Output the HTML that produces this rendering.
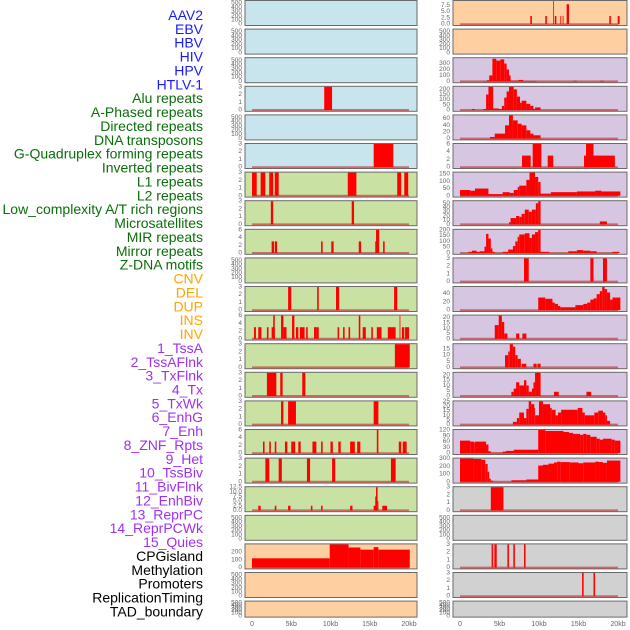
<!DOCTYPE html>
<html><head><meta charset="utf-8"><style>
html,body{margin:0;padding:0;background:#fff;}
svg{display:block;font-family:"Liberation Sans",sans-serif;}
</style></head><body>
<svg id="chart" width="630" height="630" viewBox="0 0 630 630" xmlns="http://www.w3.org/2000/svg"></svg>
<script>
const labels = ["AAV2","EBV","HBV","HIV","HPV","HTLV-1","Alu repeats","A-Phased repeats","Directed repeats","DNA transposons","G-Quadruplex forming repeats","Inverted repeats","L1 repeats","L2 repeats","Low_complexity A/T rich regions","Microsatellites","MIR repeats","Mirror repeats","Z-DNA motifs","CNV","DEL","DUP","INS","INV","1_TssA","2_TssAFlnk","3_TxFlnk","4_Tx","5_TxWk","6_EnhG","7_Enh","8_ZNF_Rpts","9_Het","10_TssBiv","11_BivFlnk","12_EnhBiv","13_ReprPC","14_ReprPCWk","15_Quies","CPGisland","Methylation","Promoters","ReplicationTiming","TAD_boundary"];
const groups = [0,0,0,0,0,0,1,1,1,1,1,1,1,1,1,1,1,1,1,2,2,2,2,2,3,3,3,3,3,3,3,3,3,3,3,3,3,3,3,4,4,4,4,4];
const xTicks = [0,5,10,15,20];
const xTickLabels = ["0","5kb","10kb","15kb","20kb"];

const segAAV2=[],segEBV=[],segHBV=[],segHPV=[],segDNA=[],segZDNA=[],segDEL=[],segDUP=[],segINV=[],segMeth=[],segTAD=[];
const segHIV=[[9.2,10.2,3]];
const segHTLV=[[15.5,18.0,3]];
const segAlu=[[0,0.6,3],[1.1,1.7,3],[2.2,2.7,3],[2.9,3.4,3],[12.2,13.3,3],[18.5,19.0,3],[19.4,19.9,3]];
const segAPh=[[2.4,2.7,3],[12.7,13.0,3]];
const segDir=[[2.5,2.8,3],[2.9,3.2,3],[8.8,9.0,3],[10.1,10.4,3],[13.6,13.9,3],[15.7,15.9,3],[15.8,16.2,6],[16.7,16.9,3]];
const segGQ=[[4.6,5.0,3],[8.3,8.5,3],[10.7,11.1,3],[18.1,18.5,3]];
const segInv=[[0.25,0.5,3],[0.8,1.2,3],[1.9,2.1,3],[2.5,2.9,3],[2.7,2.9,6],[3.7,4.0,6],[4.0,4.4,3],[5.1,5.4,6],[5.6,5.9,3],[6.1,6.7,3],[6.9,7.1,3],[7.9,8.2,3],[8.2,8.5,3],[10.9,11.1,3],[11.6,11.8,3],[12.3,12.5,3],[13.6,13.8,6],[14.1,14.5,3],[15.2,15.4,3],[15.9,16.5,3],[17.3,18.3,3],[18.8,18.9,6],[19.1,19.4,3],[19.5,20.0,3]];
const segL1=[[18.2,20.1,3]];
const segL2=[[1.9,3.1,3],[3.6,3.9,3],[6.4,6.8,3]];
const segLow=[[3.7,4.0,3],[4.6,5.6,3],[15.5,16.1,3]];
const segMic=[[1.4,1.6,3],[2.2,2.4,3],[2.9,3.1,3],[4.2,4.5,3],[5.0,5.5,3],[5.9,6.2,3],[7.7,8.2,3],[8.8,9.0,3],[10.0,10.3,3],[11.0,11.3,3],[12.5,13.1,3],[13.4,13.8,3],[15.9,16.1,6],[18.7,19.0,3],[19.2,19.7,3]];
const segMIR=[[1.7,2.2,3],[3.4,3.8,3],[7.0,7.4,3],[10.2,10.6,3],[17.7,18.3,3]];
const segMirror=[[0.8,1.1,2.5],[2.9,3.1,2.5],[4.6,4.9,2.5],[7.5,7.7,2.5],[8.8,9.0,2.5],[12.5,12.8,2.5],[15.5,15.8,2.5],[15.7,15.9,7.5],[15.8,16.0,12.5],[16.0,16.1,5],[16.6,17.2,2.5]];
const segCNV=[[0,9.9,120],[9.9,12.3,300],[12.3,13.8,260],[13.8,15.5,232],[15.5,16.1,265],[16.1,20.1,232]];
const segINS=[[8.9,9.1,3.3],[10.8,11.0,3.3],[11.8,11.9,9.3],[12.0,12.2,3.3],[12.7,12.8,3.3],[13.0,13.1,3.3],[13.5,13.8,8],[18.9,19.1,3.3],[19.96,20.2,3.3]];
const segTssA=[[2.95,3.4,5],[3.4,3.7,20],[3.7,4.1,100],[4.1,4.6,380],[4.6,5.1,350],[5.1,5.6,370],[5.6,5.9,300],[5.9,6.2,200],[6.2,6.4,100],[6.4,7.4,15],[7.4,8.0,25],[8.0,9.7,8],[14.3,14.8,10],[17.7,18.2,10]];
const segTssAF=[[1.5,1.9,10],[2.95,3.3,10],[3.3,3.6,150],[3.6,4.2,225],[4.2,4.9,15],[4.9,5.3,10],[5.3,5.6,40],[5.6,5.9,120],[5.9,6.2,180],[6.2,6.8,225],[6.8,7.2,200],[7.2,7.6,130],[7.6,7.8,70],[7.8,8.4,90],[8.4,8.9,60],[8.9,9.3,40],[9.3,9.5,10],[9.5,10.2,25]];
const segTxF=[[3.8,4.4,5],[4.4,5.7,15],[5.7,6.2,40],[6.2,6.7,70],[6.7,7.3,55],[7.3,7.8,45],[7.8,8.4,40],[8.4,8.9,25],[8.9,9.3,15],[9.3,10.2,10]];
const segTx=[[7.85,8.95,3],[9.2,10.3,6],[11.1,11.8,3],[15.7,19.6,3],[15.95,16.9,6]];
const segTxWk=[[0.0,1.3,40],[1.3,1.9,35],[1.9,3.6,50],[3.6,5.4,12],[5.4,6.3,25],[6.3,6.8,20],[6.8,7.3,40],[7.3,7.5,60],[7.5,8.4,70],[8.4,8.8,110],[8.8,9.5,160],[9.5,9.9,130],[9.9,10.2,95],[10.2,11.5,15],[11.5,14.8,25],[14.8,16.2,30],[16.2,17.1,30],[17.1,17.9,35],[17.9,20.3,30]];
const segEnhG=[[6.2,6.4,5],[6.4,7.1,15],[7.1,7.5,20],[7.5,7.8,18],[7.8,8.2,25],[8.2,8.7,35],[8.7,9.1,30],[9.1,9.6,35],[9.6,9.9,50],[9.9,10.2,55],[17.7,18.6,7]];
const segEnh=[[1.05,1.5,10],[1.5,2.1,20],[2.1,2.5,10],[2.5,3.1,15],[3.1,3.3,55],[3.3,3.6,165],[3.6,3.9,125],[3.9,4.1,40],[4.1,4.4,10],[5.4,6.1,10],[6.1,6.7,30],[6.7,7.0,60],[7.0,7.3,100],[7.3,7.5,140],[7.5,8.2,160],[8.2,8.8,170],[8.8,9.1,130],[9.1,9.5,160],[9.5,9.9,180],[9.9,10.2,200],[10.2,11.3,10],[13.7,14.8,15],[14.8,15.6,25],[15.6,16.5,20],[16.5,17.3,15],[19.3,20.2,10]];
const segZNF=[[8.1,8.7,3],[16.5,16.9,3],[18.1,18.6,3]];
const segHet=[[9.9,10.8,30],[10.8,11.7,27],[11.7,12.0,18],[12.0,12.4,15],[12.4,12.7,10],[12.7,14.6,7],[14.6,15.6,12],[15.6,16.1,15],[16.1,16.5,18],[16.5,16.9,25],[16.9,17.3,28],[17.3,17.7,38],[17.7,18.0,45],[18.0,18.3,55],[18.3,18.6,50],[18.6,19.0,42],[19.0,19.3,25],[19.3,20.3,30]];
const segTssBiv=[[4.4,4.9,13],[4.9,5.3,22],[5.3,5.6,16],[5.6,6.0,5],[7.1,7.5,5],[7.9,8.4,5]];
const segBivF=[[5.7,6.1,10],[6.1,6.3,13],[6.3,6.7,19],[6.7,7.0,17],[7.0,7.3,10],[7.3,7.7,7],[7.8,8.4,3],[9.3,9.7,3],[9.8,10.2,3]];
const segEnhBiv=[[6.5,6.8,4],[6.8,7.1,7],[7.1,7.5,13],[7.5,8.1,10],[8.1,8.4,15],[8.4,8.7,10],[8.7,9.1,4],[9.1,9.3,7],[9.3,9.5,13],[9.5,10.2,22],[11.9,12.5,4],[16.0,16.6,4]];
const segReprPC=[[6.7,7.2,3],[7.2,7.5,7],[7.5,8.1,13],[8.1,8.4,7],[8.4,8.7,17],[8.7,9.0,25],[9.0,9.4,22],[9.4,9.5,18],[9.5,10.0,10],[10.0,10.5,25],[10.5,11.4,22],[11.4,11.6,18],[11.6,12.1,16],[12.1,12.4,10],[12.4,12.8,13],[12.8,14.9,16],[14.9,15.5,18],[15.5,15.8,13],[15.8,17.0,10],[17.0,17.5,13],[17.5,18.1,15],[18.1,18.4,13],[18.4,18.6,10],[18.6,19.0,4]];
const segReprPCWk=[[0.0,1.3,65],[1.3,1.8,60],[1.8,1.9,55],[1.9,3.3,60],[3.3,3.6,45],[3.6,3.9,10],[3.9,5.4,3],[5.4,5.8,8],[5.8,6.8,12],[6.8,9.9,18],[9.9,10.8,120],[10.8,13.1,115],[13.1,13.8,110],[13.8,14.3,105],[14.3,15.2,100],[15.2,15.6,95],[15.6,16.0,100],[16.0,16.5,95],[16.5,17.3,85],[17.3,17.7,75],[17.7,18.1,70],[18.1,19.2,75],[19.2,19.6,70],[19.6,20.3,65]];
const segQuies=[[0.0,1.7,300],[1.7,2.7,295],[2.7,3.2,285],[3.2,3.5,230],[3.5,3.7,130],[3.7,3.9,40],[3.9,4.2,15],[4.2,6.5,2],[6.5,8.4,20],[8.4,9.9,30],[9.9,10.5,210],[10.5,11.2,220],[11.2,11.9,235],[11.9,12.3,250],[12.3,12.7,260],[12.7,13.9,255],[13.9,15.0,250],[15.0,15.6,240],[15.6,17.1,250],[17.1,17.6,260],[17.6,18.1,255],[18.1,18.6,245],[18.6,20.3,275]];
const segCPG=[[3.9,5.5,3]];
const segProm=[[4.0,4.2,3],[4.35,4.65,3],[6.0,6.2,3],[6.75,6.95,3],[8.1,8.3,3]];
const segRep=[[15.45,15.65,3],[16.9,17.1,3]];

const series=[segAAV2,segEBV,segHBV,segHIV,segHPV,segHTLV,segAlu,segAPh,segDir,segDNA,segGQ,segInv,segL1,segL2,segLow,segMic,segMIR,segMirror,segZDNA,segCNV,segDEL,segDUP,segINS,segINV,segTssA,segTssAF,segTxF,segTx,segTxWk,segEnhG,segEnh,segZNF,segHet,segTssBiv,segBivF,segEnhBiv,segReprPC,segReprPCWk,segQuies,segCPG,segMeth,segProm,segRep,segTAD];
const yMaxs=[550,550,550,3,550,3,3,3,6,550,3,6,3,3,3,6,3,12.5,550,300,550,550,9.3,550,390,225,70,6,160,55,200,3,55,22,19,22,25,120,300,3,550,3,3,550];
const tickSteps=[100,100,100,1,100,1,1,1,2,100,1,2,1,1,1,2,1,2.5,100,100,100,100,2.5,100,100,50,20,2,50,10,50,1,20,5,5,5,5,30,100,1,100,1,1,100];
const tickMaxs=[500,500,500,3,500,3,3,3,6,500,3,6,3,3,3,6,3,12.5,500,200,500,500,7.5,500,300,200,60,6,150,50,200,3,40,20,15,20,25,120,300,3,500,3,3,500];

const svg=document.getElementById('chart');
const NS='http://www.w3.org/2000/svg';
function mk(tag,attrs){const e=document.createElementNS(NS,tag);for(const k in attrs)e.setAttribute(k,attrs[k]);svg.appendChild(e);return e;}
const labelColors=["#1a1aff","#0a6e0a","#ffa500","#a030f0","#000000"];
const bgColors=["#c8e4ec","#c9e2a3","#fecfa0","#d7c6e2","#d1d1d1"];
const panelBg=[0,1,2,2,3,4];

// labels
labels.forEach((t,i)=>{
  const e=mk('text',{x:203,y:15+i*13.87,'text-anchor':'end','dominant-baseline':'central','font-size':14,fill:labelColors[groups[i]]});
  e.textContent=t;
  
  
});

const cols=[{l:245,r:417,x0:252,x1:409},{l:453,r:627,x0:460,x1:618}];
for(let i=0;i<44;i++){
  const c=cols[Math.floor(i/22)], row=i%22;
  const top=0.5+row*28.6, h=row===21?16:25, bot=top+h;
  const xs=v=>c.x0+(c.x1-c.x0)*v/20;
  const yb=bot-1.3, yt=top+0.5;
  const ys=v=>yb-(yb-yt)*v/yMaxs[i];
  const g=groups[i];
  const bgc=(i===22||i===23)?bgColors[2]:bgColors[g===2?2:(g===3?3:(g===4?4:g))];
  const bg=mk('rect',{x:c.l,y:top,width:c.r-c.l,height:h,fill:bgc,stroke:'#6a6a6a','stroke-width':1});
  
  
  const segs=series[i];
  if(segs.length){
    const bl=mk('line',{x1:xs(0),x2:xs(20),y1:yb,y2:yb,stroke:'#c04040','stroke-width':2,'stroke-opacity':0.7});
    
    
  }
  segs.forEach(s=>{
    const y=ys(s[2]);
    const r=mk('rect',{x:xs(s[0]),y:y,width:Math.max(0.8,xs(s[1])-xs(s[0])),height:Math.max(0,yb-y),fill:'#ff0000'});
    
    
  });
  const dec=(tickSteps[i]%1!==0);
  for(let v=0;v<=tickMaxs[i]+1e-9;v+=tickSteps[i]){
    const t=mk('text',{x:c.l-3,y:ys(v),'text-anchor':'end','dominant-baseline':'central','font-size':6.5,fill:'#666'});
    t.textContent=dec?v.toFixed(1):String(Math.round(v));
    
    
  }
}
// x axes
cols.forEach((c,ci)=>{
  xTicks.forEach((v,k)=>{
    const t=mk('text',{x:c.x0+(c.x1-c.x0)*v/20,y:626,'text-anchor':'middle','font-size':7,fill:'#666'});
    t.textContent=xTickLabels[k];
    
    
  });
});
</script>
</body></html>
